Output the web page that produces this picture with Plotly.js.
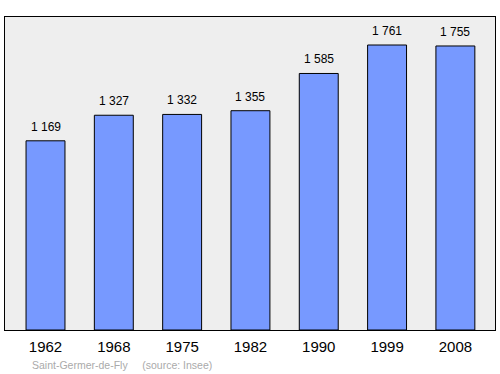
<!DOCTYPE html>
<html>
<head>
<meta charset="utf-8">
<script src="https://cdn.plot.ly/plotly-3.0.1.min.js"></script>
<style>html,body{margin:0;padding:0;background:#fff;}#chart{width:500px;height:374px;}</style>
</head>
<body>
<div id="chart"></div>
<script>
var years = ["1962", "1968", "1975", "1982", "1990", "1999", "2008"];
var population = [1169, 1327, 1332, 1355, 1585, 1761, 1755];
var labels = ["1 169", "1 327", "1 332", "1 355", "1 585", "1 761", "1 755"];
var sourceText = "Saint-Germer-de-Fly\u00a0\u00a0\u00a0\u00a0\u00a0(source: Insee)";

var annotations = years.map(function (y, i) {
  return {
    x: i, y: population[i], xref: "x", yref: "y",
    text: labels[i], showarrow: false, yanchor: "bottom", yshift: 5,
    font: {family: "Liberation Sans, Arial, sans-serif", size: 12, color: "#000"}
  };
});
annotations.push({
  xref: "paper", yref: "paper", x: 0.052, y: -0.112, xanchor: "left", yanchor: "middle",
  text: sourceText, showarrow: false,
  font: {family: "Liberation Sans, Arial, sans-serif", size: 10.5, color: "#aaaaaa"}
});

Plotly.newPlot("chart", [{
  type: "bar", x: years, y: population, width: 0.57,
  marker: {color: "#7799ff", line: {color: "#000", width: 1}},
  hoverinfo: "none"
}], {
  width: 500, height: 374,
  margin: {l: 5, r: 5, t: 17, b: 44, pad: 0},
  paper_bgcolor: "#ffffff", plot_bgcolor: "#eeeeee",
  showlegend: false,
  xaxis: {
    type: "category", range: [-0.593, 6.58], showgrid: false, zeroline: false,
    showline: true, mirror: true, linecolor: "#000", linewidth: 1.3,
    ticks: "", ticklabelstandoff: 3,
    tickfont: {family: "Liberation Sans, Arial, sans-serif", size: 15, color: "#000"}
  },
  yaxis: {
    range: [0, 1934], showgrid: false, zeroline: false, showticklabels: false,
    showline: true, mirror: true, linecolor: "#000", linewidth: 1.3, ticks: ""
  },
  annotations: annotations
}, {staticPlot: true});
</script>
</body>
</html>
